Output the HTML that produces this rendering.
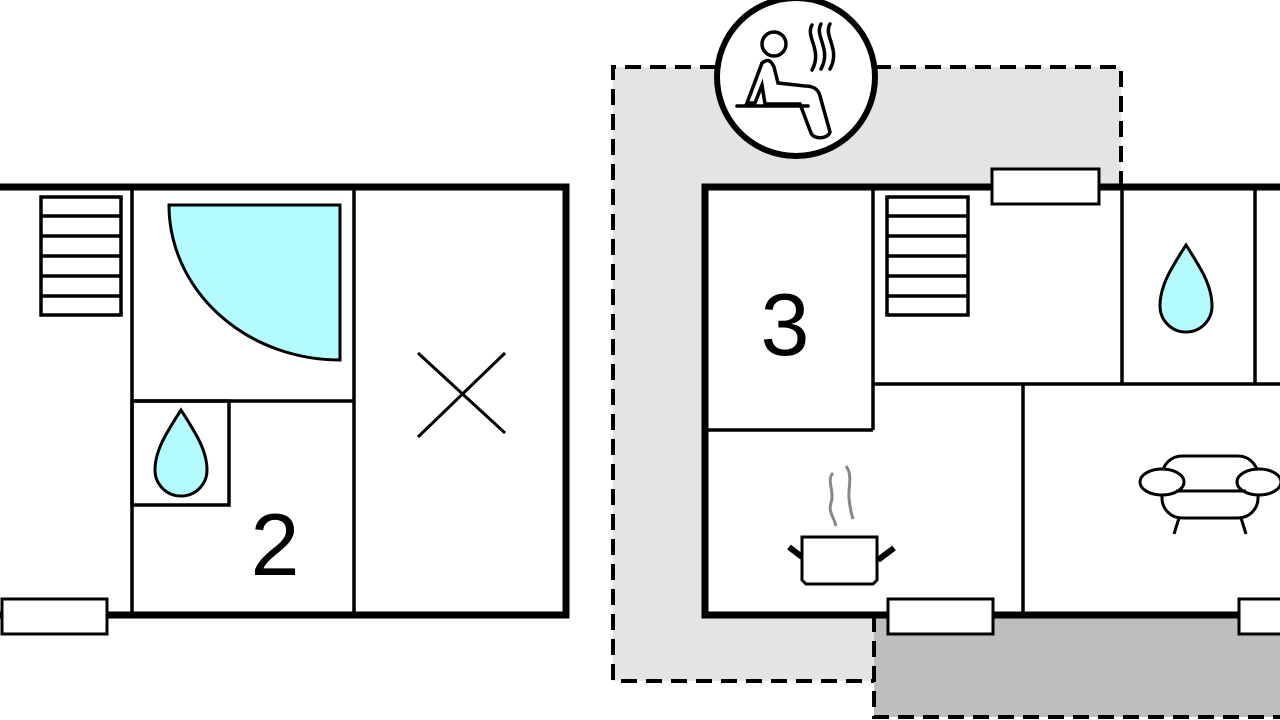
<!DOCTYPE html>
<html><head><style>html,body{margin:0;padding:0;background:#fff;width:1280px;height:720px;overflow:hidden}</style></head>
<body>
<svg width="1280" height="720" viewBox="0 0 1280 720" xmlns="http://www.w3.org/2000/svg" font-family="Liberation Sans, sans-serif">
<path d="M613 67 H1121 V187 H705 V616 H874 V681 H613 Z" fill="#e4e4e4"/>
<rect x="874" y="616" width="406" height="101" fill="#bebebe"/>
<g fill="none" stroke="#000" stroke-width="4" stroke-dasharray="16 9">
<path d="M1121 187 V67 H613 V681 H874"/>
<path d="M874 616 V717 H1280"/>
</g>
<rect x="-10" y="187" width="576" height="428" fill="#fff"/>
<g fill="none" stroke="#000">
<path d="M-10 187 H566 V615 H-10" stroke-width="7"/>
<g stroke-width="3.5">
<line x1="132" y1="187" x2="132" y2="615"/>
<line x1="354" y1="187" x2="354" y2="615"/>
<line x1="132" y1="401" x2="354" y2="401"/>
<rect x="132" y="401" width="97" height="104"/>
<rect x="41" y="197" width="80" height="118"/>
<line x1="41" y1="216" x2="121" y2="216"/><line x1="41" y1="236" x2="121" y2="236"/>
<line x1="41" y1="256" x2="121" y2="256"/><line x1="41" y1="276" x2="121" y2="276"/>
<line x1="41" y1="296" x2="121" y2="296"/>
</g>
<path d="M169 205 H340 V360 A171 155 0 0 1 169 205 Z" fill="#b4fbfd" stroke-width="3"/>
<path d="M181 410 C 195 432,207 450,207 470 A26 26 0 0 1 155 470 C155 450,167 432,181 410 Z" fill="#b4fbfd" stroke-width="3"/>
<line x1="418" y1="353" x2="505" y2="433" stroke-width="3"/>
<line x1="418" y1="437" x2="505" y2="353" stroke-width="3"/>
</g>
<rect x="2" y="599" width="105" height="35" fill="#fff" stroke="#000" stroke-width="3"/>
<text x="275" y="575" font-size="88" text-anchor="middle">2</text>

<rect x="705" y="187" width="600" height="428" fill="#fff"/>
<g fill="none" stroke="#000">
<path d="M1290 187 H705 V615 H1290" stroke-width="7"/>
<g stroke-width="3.5">
<line x1="873" y1="187" x2="873" y2="430"/>
<line x1="705" y1="430" x2="873" y2="430"/>
<line x1="873" y1="384" x2="1280" y2="384"/>
<line x1="1122" y1="187" x2="1122" y2="384"/>
<line x1="1255" y1="187" x2="1255" y2="384"/>
<line x1="1023" y1="384" x2="1023" y2="615"/>
<rect x="887" y="197" width="81" height="118"/>
<line x1="887" y1="216" x2="968" y2="216"/><line x1="887" y1="236" x2="968" y2="236"/>
<line x1="887" y1="256" x2="968" y2="256"/><line x1="887" y1="276" x2="968" y2="276"/>
<line x1="887" y1="296" x2="968" y2="296"/>
</g>
<path d="M1186 245 C 1200 267,1212 285,1212 306 A26 26 0 0 1 1160 306 C1160 285,1172 267,1186 245 Z" fill="#b4fbfd" stroke-width="3"/>
<g stroke-width="3" fill="#fff">
<rect x="1162" y="456" width="96" height="62" rx="20"/>
<ellipse cx="1162" cy="482" rx="22" ry="13"/>
<ellipse cx="1259" cy="482" rx="22" ry="13"/>
<line x1="1176" y1="491" x2="1246" y2="491"/>
<line x1="1179" y1="518" x2="1174" y2="534"/>
<line x1="1241" y1="518" x2="1246" y2="534"/>
</g>
<path d="M802 537 H877 V580 L873 584 H806 L802 580 Z" fill="#fff" stroke-width="3"/>
<line x1="789" y1="547" x2="802" y2="557" stroke-width="6"/>
<line x1="894" y1="548" x2="878" y2="560" stroke-width="6"/>
<path d="M833 473 C826 480,835 492,831 503 C828 512,834 517,836 526" stroke="#888" stroke-width="3"/>
<path d="M846 466 C853 475,848 488,849 498 C850 508,851 513,853 519" stroke="#888" stroke-width="3"/>
</g>
<text x="785" y="355" font-size="88" text-anchor="middle">3</text>
<rect x="992" y="169" width="107" height="35" fill="#fff" stroke="#000" stroke-width="3"/>
<rect x="888" y="599" width="105" height="35" fill="#fff" stroke="#000" stroke-width="3"/>
<rect x="1239" y="599" width="60" height="35" fill="#fff" stroke="#000" stroke-width="3"/>

<circle cx="796" cy="77" r="79" fill="#fff" stroke="#000" stroke-width="6"/>
<g fill="none" stroke="#000" stroke-width="3.5" stroke-linecap="round">
<circle cx="774" cy="44" r="12"/>
<path d="M762 63 L747 103 H755 L762 85 L765 104 H800 L811 133 C814 140,828 139,830 132 L820 96 C818 88,812 86,805 86 L778 83 L774 67 C770 58,766 60,762 63"/>
<line x1="737" y1="106" x2="808" y2="106"/>
<path d="M812 25 C805 37,823 50,812 70"/>
<path d="M821 24 C814 36,832 49,821 69"/>
<path d="M830 24 C823 36,841 49,830 69"/>
</g>
</svg>
</body></html>
